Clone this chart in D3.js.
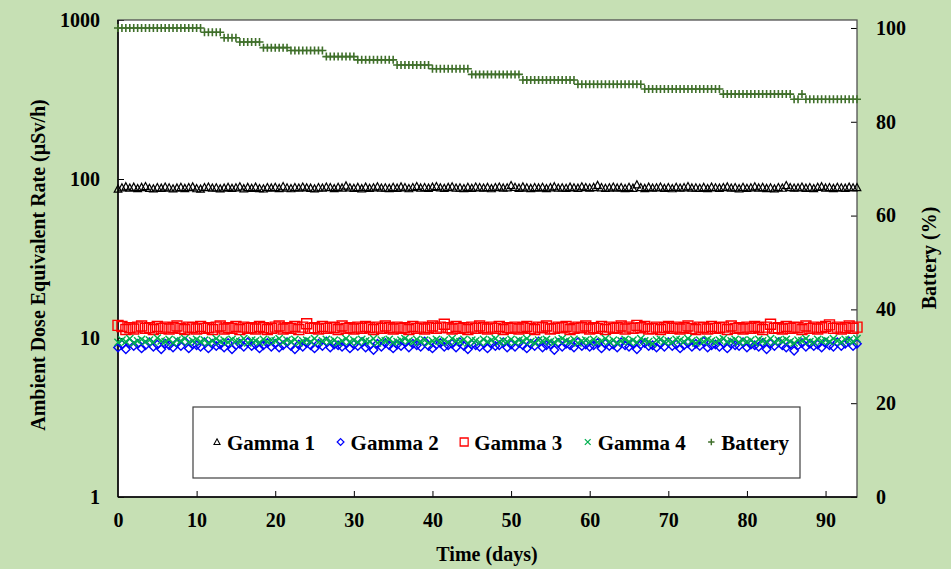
<!DOCTYPE html>
<html>
<head>
<meta charset="utf-8">
<script src="https://cdn.jsdelivr.net/npm/d3@7/dist/d3.min.js"></script>
<style>
  html, body { margin: 0; padding: 0; background: #c6e0b4; }
  svg { display: block; }
  text { font-family: "Liberation Serif", "Times New Roman", serif; font-weight: bold; fill: #000; }
</style>
</head>
<body>
<script>
// ---------------- DATA ----------------
const days = [
  0,0.5,1,1.5,2,2.5,3,3.5,4,4.5,5,5.5,6,6.5,7,7.5,8,8.5,9,9.5,
  10,10.5,11,11.5,12,12.5,13,13.5,14,14.5,15,15.5,16,16.5,17,17.5,18,18.5,19,19.5,
  20,20.5,21,21.5,22,22.5,23,23.5,24,24.5,25,25.5,26,26.5,27,27.5,28,28.5,29,29.5,
  30,30.5,31,31.5,32,32.5,33,33.5,34,34.5,35,35.5,36,36.5,37,37.5,38,38.5,39,39.5,
  40,40.5,41,41.5,42,42.5,43,43.5,44,44.5,45,45.5,46,46.5,47,47.5,48,48.5,49,49.5,
  50,50.5,51,51.5,52,52.5,53,53.5,54,54.5,55,55.5,56,56.5,57,57.5,58,58.5,59,59.5,
  60,60.5,61,61.5,62,62.5,63,63.5,64,64.5,65,65.5,66,66.5,67,67.5,68,68.5,69,69.5,
  70,70.5,71,71.5,72,72.5,73,73.5,74,74.5,75,75.5,76,76.5,77,77.5,78,78.5,79,79.5,
  80,80.5,81,81.5,82,82.5,83,83.5,84,84.5,85,85.5,86,86.5,87,87.5,88,88.5,89,89.5,
  90,90.5,91,91.5,92,92.5,93,93.5,94
];

const gamma1 = [
  86.5,88.2,89.5,87.8,88.9,87.2,88.6,89.8,87.5,86.9,88.3,87.6,89.1,88.0,86.8,87.9,88.7,87.3,88.4,89.2,
  87.1,86.6,88.5,89.0,87.7,88.2,86.9,87.8,88.8,87.4,88.1,89.3,87.0,88.6,87.5,88.9,87.2,86.8,88.4,87.9,
  88.7,87.3,89.6,88.0,87.1,88.5,87.8,89.1,88.2,87.6,86.9,88.3,87.7,89.0,88.4,87.2,88.8,87.9,90.5,88.1,
  87.4,88.6,87.0,88.9,87.5,88.2,89.4,87.8,88.0,87.3,88.7,87.6,89.2,88.3,87.1,88.5,89.7,87.9,88.4,87.6,
  88.9,89.8,88.1,87.4,88.6,89.3,87.7,88.0,87.2,88.8,87.5,89.0,88.3,87.8,88.6,87.1,88.4,89.1,87.9,88.2,
  91.0,88.7,87.6,89.2,88.0,87.3,88.5,87.9,88.8,87.2,88.3,89.5,87.7,88.1,87.4,88.9,88.2,87.6,89.4,88.5,
  87.8,88.6,91.2,88.3,87.5,88.0,89.1,87.9,88.4,87.2,88.7,87.6,92.0,88.5,87.3,88.9,87.8,88.2,89.0,87.5,
  88.4,87.1,88.8,87.7,88.3,89.6,87.9,88.0,87.4,88.6,87.2,88.9,88.1,87.6,88.5,89.2,87.8,88.3,87.0,88.7,
  87.5,88.2,89.4,87.9,88.6,87.3,88.0,86.9,88.5,87.7,91.0,88.4,87.8,88.1,89.0,87.6,88.3,87.2,88.8,89.5,
  87.9,88.4,87.3,88.7,88.0,87.6,88.9,88.2,88.5
];

const gamma2 = [
  8.7,9.1,8.5,9.3,8.9,9.2,8.6,9.0,9.4,8.8,9.1,8.5,9.2,9.0,8.7,9.3,8.9,9.5,8.6,9.1,
  9.0,8.8,9.4,8.6,9.2,8.9,9.1,8.7,9.3,8.5,9.0,9.2,8.8,9.4,8.9,9.1,8.6,9.0,9.3,8.8,
  9.2,8.7,9.0,9.4,8.9,8.5,9.1,8.8,9.3,9.0,8.6,9.2,8.9,9.5,8.7,9.1,9.0,8.8,9.3,8.6,
  9.1,8.9,9.4,8.7,9.0,8.4,9.2,8.8,9.3,9.0,8.6,9.1,8.9,9.4,8.7,9.2,9.0,8.8,9.5,8.9,
  8.6,9.1,9.3,8.8,9.0,9.2,8.7,9.4,8.9,8.5,9.1,9.0,8.8,9.3,8.6,9.2,8.9,9.0,9.4,8.7,
  9.1,8.8,9.3,9.0,8.6,9.2,8.9,9.5,8.7,9.0,9.1,8.4,9.3,8.8,9.2,9.0,8.7,9.4,8.9,9.1,
  8.8,9.0,9.3,8.6,9.2,8.9,9.1,8.7,9.4,9.0,8.8,9.2,8.5,9.1,9.3,8.9,9.0,8.7,9.2,8.8,
  9.4,8.9,9.1,8.6,9.0,9.3,8.8,9.2,8.9,9.5,8.7,9.0,9.1,8.8,9.3,8.6,9.2,9.0,8.9,9.4,
  8.7,9.1,9.0,8.8,9.3,8.5,9.2,8.9,9.4,9.0,8.7,9.1,8.3,9.0,9.3,8.8,9.2,8.9,9.1,8.7,
  9.3,9.0,8.8,9.4,8.9,9.2,9.5,8.9,9.2
];

const gamma3 = [
  12.0,11.8,11.3,11.6,11.4,11.7,11.9,11.5,11.6,11.3,11.8,11.5,11.7,11.4,11.6,11.9,11.5,11.3,11.7,11.6,
  11.4,11.8,11.5,11.6,11.3,11.7,11.9,11.4,11.6,11.5,11.8,11.3,11.7,11.5,11.6,11.4,11.8,11.6,11.3,11.5,
  11.7,11.9,11.4,11.6,11.5,11.8,11.3,11.7,12.3,11.5,11.6,11.4,11.8,11.5,11.7,11.6,11.3,11.9,11.5,11.6,
  11.4,11.7,11.5,11.8,11.6,11.3,11.7,11.5,11.9,11.6,11.4,11.7,11.5,11.6,11.3,11.8,11.5,11.7,11.4,11.6,
  11.9,11.5,11.7,12.2,11.6,11.4,11.8,11.5,11.6,11.3,11.7,11.5,11.9,11.6,11.4,11.7,11.5,11.8,11.3,11.6,
  11.5,11.7,11.4,11.6,11.8,11.5,11.3,11.7,11.6,11.9,11.4,11.5,11.7,11.6,11.8,11.3,11.5,11.7,11.6,11.9,
  11.4,11.6,11.5,11.8,11.3,11.7,11.5,11.6,11.9,11.4,11.7,11.5,12.0,11.6,11.8,11.4,11.5,11.7,11.3,11.6,
  11.8,11.5,11.7,11.4,11.6,11.9,11.5,11.3,11.7,11.6,11.4,11.8,11.5,11.6,11.7,11.3,11.9,11.5,11.6,11.4,
  11.7,11.5,11.8,11.6,11.3,11.7,12.2,11.5,11.6,11.4,11.8,11.5,11.7,11.6,11.3,11.9,11.5,11.7,11.4,11.6,
  11.8,12.1,11.5,11.7,11.4,11.6,11.9,11.5,11.7
];

const gamma4 = [
  9.4,9.7,9.5,9.9,9.3,9.6,9.8,9.5,9.7,9.4,10.0,9.6,9.5,9.8,9.3,9.7,9.6,9.9,9.4,9.6,
  9.8,9.5,9.7,9.3,9.6,9.9,9.5,9.7,9.4,9.8,9.6,9.5,9.9,9.3,9.7,9.6,9.4,9.8,9.5,9.7,
  9.6,9.9,9.4,9.7,9.5,9.8,9.3,9.6,9.7,9.5,9.9,9.4,9.6,9.8,9.5,9.7,9.3,9.6,9.9,9.5,
  9.7,9.4,9.8,9.6,9.5,9.9,9.3,9.7,9.6,9.8,9.4,9.5,9.7,9.9,9.6,9.4,9.8,9.5,9.7,9.3,
  9.6,9.8,9.5,9.7,9.4,9.9,9.6,9.5,9.8,9.3,9.7,9.6,9.4,9.8,9.5,9.7,9.9,9.4,9.6,9.5,
  9.8,9.4,9.7,9.6,9.9,9.5,9.3,9.7,9.6,9.8,9.5,9.4,9.7,9.9,9.6,9.5,9.8,9.3,9.6,9.7,
  9.5,9.8,9.4,9.6,9.9,9.5,9.7,9.3,9.6,9.8,9.5,9.7,9.4,9.9,9.6,9.5,9.2,9.7,9.8,9.5,
  9.6,9.4,9.8,9.7,9.5,9.9,9.6,9.3,9.7,9.5,9.8,9.6,9.4,9.7,9.9,9.5,9.6,9.8,9.4,9.7,
  9.5,9.7,9.3,9.8,9.6,9.5,9.9,9.4,9.7,9.6,9.8,9.5,9.3,9.7,9.6,9.9,9.5,9.4,9.8,9.6,
  9.7,9.5,9.9,9.6,9.4,9.8,9.7,9.5,9.9
];

const battery = [
  100,100,100,100,100,100,100,100,100,100,100,100,100,100,100,100,100,100,100,100,100,100,
  99.1,99.1,99.1,99.1,99.1,
  97.9,97.9,97.9,97.9,
  97.0,97.0,97.0,97.0,97.0,97.0,
  95.8,95.8,95.8,95.8,95.8,95.8,95.8,
  95.2,95.2,95.2,95.2,95.2,95.2,95.2,95.2,95.2,
  93.9,93.9,93.9,93.9,93.9,93.9,93.9,93.9,
  93.2,93.2,93.2,93.2,93.2,93.2,93.2,93.2,93.2,93.2,
  92.1,92.1,92.1,92.1,92.1,92.1,92.1,92.1,92.1,
  91.3,91.3,91.3,91.3,91.3,91.3,91.3,91.3,91.3,91.3,
  90.1,90.1,90.1,90.1,90.1,90.1,90.1,90.1,90.1,90.1,90.1,90.1,90.1,
  88.9,88.9,88.9,88.9,88.9,88.9,88.9,88.9,88.9,88.9,88.9,88.9,88.9,88.9,
  88.0,88.0,88.0,88.0,88.0,88.0,88.0,88.0,88.0,88.0,88.0,88.0,88.0,88.0,88.0,88.0,88.0,
  87.0,87.0,87.0,87.0,87.0,87.0,87.0,87.0,87.0,87.0,87.0,87.0,87.0,87.0,87.0,87.0,87.0,87.0,87.0,87.0,
  85.9,85.9,85.9,85.9,85.9,85.9,85.9,85.9,85.9,85.9,85.9,85.9,85.9,85.9,85.9,85.9,85.9,85.9,
  84.8,84.8,85.9,
  84.8,84.8,84.8,84.8,84.8,84.8,84.8,84.8,84.8,84.8,84.8,84.8,84.8,84.8
];

const xTicks = [0,10,20,30,40,50,60,70,80,90];
const leftTicks = [1,10,100,1000];
const rightTicks = [0,20,40,60,80,100];

const seriesNames = ["Gamma 1","Gamma 2","Gamma 3","Gamma 4","Battery"];
const seriesValues = [gamma1, gamma2, gamma3, gamma4, battery];
const seriesAxis = ["left","left","left","left","right"];
const seriesShape = ["triangle","diamond","square","x","plus"];
const seriesColor = ["#000000","#0000ff","#ff0000","#00b050","#3f6f2a"];

// ---------------- LAYOUT ----------------
const W = 951, H = 569;
const L = 118, R = 857, T = 20, B = 497;

const svg = d3.select("body").append("svg").attr("width", W).attr("height", H);
svg.append("rect").attr("width", W).attr("height", H).attr("fill", "#c6e0b4");
svg.append("rect").attr("x", L).attr("y", T).attr("width", R - L).attr("height", B - T)
  .attr("fill", "#ffffff");

const x = d3.scaleLinear().domain([0, 94]).range([L, R]);
const yL = d3.scaleLog().domain([1, 1000]).range([B, T]);
const yR = d3.scaleLinear().domain([0, 101.7]).range([B, T]);

function shapePath(type, s) {
  switch (type) {
    case "triangle": return `M0,${-s} L${s * 0.95},${s * 0.8} L${-s * 0.95},${s * 0.8} Z`;
    case "diamond": return `M0,${-s} L${s},0 L0,${s} L${-s},0 Z`;
    case "square": return `M${-s},${-s} H${s} V${s} H${-s} Z`;
    case "x": return `M${-s},${-s} L${s},${s} M${s},${-s} L${-s},${s}`;
    case "plus": return `M${-s},0 H${s} M0,${-s} V${s}`;
  }
}
const shapeSize = { triangle: 4, diamond: 4.2, square: 5, x: 3.6, plus: 4 };
const shapeStroke = { triangle: 1.2, diamond: 1.4, square: 1.4, x: 1.4, plus: 1.6 };

// ---------------- AXES ----------------
const fontSize = 20;
const gx = svg.append("g").attr("transform", `translate(0,${B})`)
  .call(d3.axisBottom(x).tickValues(xTicks).tickFormat(d3.format("d")).tickSize(-6).tickPadding(16));
const gl = svg.append("g").attr("transform", `translate(${L},0)`)
  .call(d3.axisLeft(yL).tickValues(leftTicks).tickFormat(d3.format("d")).tickSize(-6).tickPadding(18));
const gr = svg.append("g").attr("transform", `translate(${R},0)`)
  .call(d3.axisRight(yR).tickValues(rightTicks).tickFormat(d3.format("d")).tickSize(-6).tickPadding(19));

[gx, gl, gr].forEach(g => {
  g.select(".domain").remove();
  g.selectAll(".tick line").attr("stroke", "#000").attr("stroke-width", 1);
  g.selectAll(".tick text")
    .style("font-family", '"Liberation Serif", "Times New Roman", serif')
    .style("font-weight", "bold").style("font-size", fontSize + "px").attr("fill", "#000");
});
gx.selectAll(".tick").filter(d => d === 0).select("line").remove();

// frame
svg.append("rect").attr("x", L).attr("y", T).attr("width", R - L).attr("height", B - T)
  .attr("fill", "none").attr("stroke", "#505050").attr("stroke-width", 1.3);
svg.append("line").attr("x1", L).attr("x2", L).attr("y1", T).attr("y2", B)
  .attr("stroke", "#000").attr("stroke-width", 1.5);
svg.append("line").attr("x1", L).attr("x2", R).attr("y1", B).attr("y2", B)
  .attr("stroke", "#000").attr("stroke-width", 1.5);

// ---------------- SERIES ----------------
seriesNames.forEach((name, i) => {
  const vals = seriesValues[i];
  const ys = seriesAxis[i] === "left" ? yL : yR;
  const sh = seriesShape[i];
  svg.append("g").selectAll("path").data(days.map((d, j) => [d, vals[j]])).join("path")
    .attr("transform", d => `translate(${x(d[0])},${ys(d[1])})`)
    .attr("d", shapePath(sh, shapeSize[sh]))
    .attr("fill", "none")
    .attr("stroke", seriesColor[i])
    .attr("stroke-width", shapeStroke[sh]);
});

// ---------------- LEGEND ----------------
svg.append("rect").attr("x", 193).attr("y", 407).attr("width", 607).attr("height", 71)
  .attr("fill", "#ffffff").attr("stroke", "#404040").attr("stroke-width", 1.2);
let lx = 217;
const ly = 443;
seriesNames.forEach((name, i) => {
  const sh = seriesShape[i];
  svg.append("path").attr("transform", `translate(${lx},${ly - 1})`)
    .attr("d", shapePath(sh, shapeSize[sh] * 0.8))
    .attr("fill", "none").attr("stroke", seriesColor[i]).attr("stroke-width", shapeStroke[sh] * 0.9);
  const t = svg.append("text").attr("x", lx + 10).attr("y", ly)
    .attr("dominant-baseline", "central").style("font-size", "21px").text(name);
  lx = lx + 10 + t.node().getComputedTextLength() + 25.5;
});

// ---------------- TITLES ----------------
svg.append("text").attr("x", 487).attr("y", 561).attr("text-anchor", "middle")
  .style("font-size", "20px").text("Time (days)");
svg.append("text").attr("transform", "translate(38,265) rotate(-90)")
  .attr("text-anchor", "middle").attr("dominant-baseline", "central")
  .style("font-size", "20px").text("Ambient Dose Equivalent Rate (µSv/h)");
svg.append("text").attr("transform", "translate(929,258) rotate(-90)")
  .attr("text-anchor", "middle").attr("dominant-baseline", "central")
  .style("font-size", "20px").text("Battery (%)");
</script>
</body>
</html>
